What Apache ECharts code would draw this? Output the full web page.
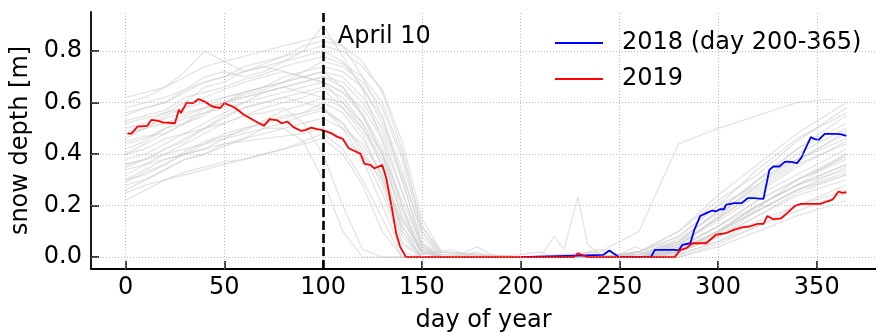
<!DOCTYPE html>
<html>
<head>
<meta charset="utf-8">
<script src="https://cdn.jsdelivr.net/npm/echarts@6.0.0/dist/echarts.min.js"></script>
<style>
  html, body { margin: 0; padding: 0; background: #fff; }
  #chart { width: 876px; height: 332px; }
</style>
</head>
<body>
<div id="chart"></div>
<script>
var xTicks = [0, 50, 100, 150, 200, 250, 300, 350];
var yTicks = [0, 0.2, 0.4, 0.6, 0.8];

// 2019 snow depth (day, m)
var redDays = [1, 3, 6, 11, 13, 16, 19, 25, 27, 28, 31, 34, 37, 40, 44, 48, 50, 55, 60, 66, 70, 73, 77, 79, 82, 85, 89, 91, 94, 97, 100, 104, 107, 110, 113, 119, 121, 124, 126, 130, 132, 135, 137, 139, 142, 227, 229, 234, 278, 281, 284, 287, 294, 299, 304, 308, 312, 316, 320, 323, 325, 328, 332, 335, 339, 342, 352, 355, 358, 361, 363, 365];
var redVals = [0.48, 0.48, 0.507, 0.51, 0.533, 0.53, 0.523, 0.52, 0.572, 0.56, 0.60, 0.598, 0.614, 0.604, 0.585, 0.579, 0.598, 0.582, 0.553, 0.527, 0.51, 0.536, 0.531, 0.52, 0.526, 0.505, 0.49, 0.493, 0.503, 0.497, 0.492, 0.482, 0.468, 0.459, 0.423, 0.401, 0.362, 0.358, 0.345, 0.358, 0.307, 0.184, 0.093, 0.041, 0, 0, 0.015, 0, 0, 0.028, 0.035, 0.054, 0.054, 0.087, 0.093, 0.106, 0.116, 0.119, 0.129, 0.129, 0.16, 0.147, 0.151, 0.171, 0.199, 0.207, 0.207, 0.216, 0.223, 0.255, 0.25, 0.252];

// 2018, day 200-365
var blueDays = [200, 242, 245, 247, 250, 266, 268, 278, 280, 282, 286, 288, 291, 294, 297, 299, 301, 303, 304, 308, 312, 315, 318, 323, 326, 328, 331, 334, 337, 340, 342, 347, 349, 351, 354, 358, 362, 365];
var blueVals = [0, 0.009, 0.026, 0.015, 0, 0, 0.028, 0.028, 0.026, 0.048, 0.054, 0.106, 0.16, 0.171, 0.181, 0.178, 0.186, 0.186, 0.203, 0.21, 0.21, 0.229, 0.229, 0.226, 0.339, 0.352, 0.352, 0.371, 0.37, 0.365, 0.384, 0.466, 0.458, 0.455, 0.479, 0.479, 0.478, 0.471];

// other years (grey), sampled at these days
var grayDays = [0, 10, 20, 30, 40, 50, 60, 70, 80, 90, 100, 110, 120, 130, 140, 150, 160, 200, 240, 260, 280, 300, 320, 340, 365];
var grayYears = [
  [.62,.64,.66,.70,.74,.76,.78,.80,.82,.84,.86,.82,.70,.55,.30,.05,0,0,0,0,.05,.15,.30,.42,.55],
  [.55,.58,.60,.65,.70,.72,.70,.72,.76,.80,.90,.78,.65,.45,.20,0,0,0,0,.02,.08,.20,.28,.38,.48],
  [.48,.50,.55,.58,.62,.65,.68,.70,.72,.70,.68,.60,.50,.35,.10,0,0,0,0,0,.04,.12,.22,.30,.40],
  [.42,.45,.50,.52,.58,.62,.64,.66,.68,.70,.72,.66,.55,.40,.15,.02,0,0,0,.01,.06,.15,.25,.35,.45],
  [.35,.38,.42,.45,.50,.55,.58,.60,.62,.60,.58,.52,.40,.25,.05,0,0,0,0,0,.02,.08,.16,.25,.32],
  [.30,.34,.38,.40,.42,.46,.50,.52,.55,.56,.58,.50,.38,.20,.02,0,0,0,0,0,.03,.10,.20,.28,.36],
  [.25,.28,.30,.33,.35,.37,.38,.40,.42,.45,.48,.42,.30,.15,0,0,0,0,0,0,.01,.06,.12,.18,.25],
  [.40,.42,.46,.48,.50,.52,.55,.56,.58,.52,.40,.20,.03,0,0,0,0,0,0,0,.02,.08,.18,.26,.33],
  [.58,.60,.62,.65,.68,.70,.74,.76,.78,.80,.82,.80,.74,.65,.45,.15,.02,0,0,.02,.10,.22,.32,.45,.58],
  [.45,.47,.48,.52,.55,.60,.63,.65,.68,.70,.72,.70,.62,.50,.30,.06,0,0,0,0,.05,.14,.24,.32,.42],
  [.32,.36,.40,.44,.48,.52,.55,.58,.60,.62,.65,.58,.48,.30,.08,0,0,0,0,0,.02,.10,.18,.26,.35],
  [.50,.52,.56,.60,.66,.68,.72,.74,.72,.70,.68,.64,.58,.46,.25,.04,0,0,0,0,.04,.16,.28,.40,.50],
  [.28,.30,.34,.38,.40,.44,.46,.50,.52,.55,.57,.52,.42,.28,.06,0,0,0,0,0,0,.05,.12,.20,.28],
  [.38,.40,.44,.48,.52,.56,.60,.62,.64,.66,.68,.64,.55,.40,.18,.02,0,0,0,0,.03,.12,.22,.30,.38],
  [.60,.62,.66,.72,.80,.76,.72,.74,.76,.78,.80,.76,.66,.52,.32,.10,0,0,0,.01,.06,.18,.30,.38,.46],
  [.44,.46,.50,.54,.56,.58,.60,.64,.66,.68,.70,.68,.60,.48,.26,.04,0,0,0,0,.04,.12,.20,.28,.36],
  [.52,.54,.56,.58,.60,.62,.64,.66,.68,.72,.76,.74,.68,.58,.38,.10,.01,0,0,.02,.08,.20,.34,.46,.56],
  [.22,.26,.30,.32,.34,.36,.38,.40,.42,.44,.46,.40,.28,.10,0,0,0,0,0,0,0,.04,.10,.16,.22],
  [.36,.38,.42,.46,.50,.54,.58,.60,.62,.64,.66,.62,.52,.36,.12,0,0,0,0,0,.02,.10,.20,.28,.40],
  [.46,.50,.54,.56,.58,.60,.62,.64,.66,.64,.62,.58,.50,.38,.16,.02,0,0,0,.01,.05,.15,.26,.36,.44],
  [.30,.32,.36,.40,.44,.48,.50,.52,.54,.56,.60,.56,.46,.32,.10,0,0,0,0,0,.02,.08,.16,.24,.30],
  [.40,.44,.48,.52,.56,.60,.64,.66,.70,.72,.74,.72,.66,.54,.34,.08,0,0,0,0,.06,.18,.30,.42,.52],
  [.34,.36,.38,.40,.42,.44,.45,.46,.47,.48,.50,.46,.40,.30,.12,.02,0,0,0,0,.01,.06,.14,.20,.26],
  [.56,.58,.60,.64,.68,.70,.72,.75,.78,.82,.84,.82,.76,.64,.42,.12,.02,0,0,.02,.10,.24,.36,.48,.60],
  [.48,.50,.52,.55,.58,.60,.62,.64,.66,.68,.70,.66,.56,.42,.20,.03,0,0,.02,.10,.44,.50,.55,.60,.62],
  [.36,.38,.40,.42,.44,.46,.48,.50,.50,.45,.30,.10,0,0,0,0,0,0,0,0,.02,.10,.20,.28,.34],
  [.26,.30,.34,.38,.40,.43,.46,.48,.50,.52,.54,.50,.44,.32,.14,.03,0,0,0,0,.03,.10,.18,.26,.32],
  [.29,.33,.36,.41,.45,.47,.49,.53,.57,.59,.62,.60,.52,.40,.22,.05,0,0,0,0,.02,.09,.19,.30,.39],
  [.53,.55,.57,.62,.64,.66,.69,.71,.74,.76,.78,.75,.70,.60,.40,.12,.01,0,0,.01,.07,.17,.27,.37,.49]
];

// summer noise in two of the grey years
var summerDays = [150, 165, 172, 178, 185, 200, 210, 217, 222, 229, 234, 240, 250, 258, 265, 272];
var summerA = [0, 0, 0.02, 0.04, 0.01, 0, 0, 0.08, 0.03, 0.234, 0.05, 0.01, 0, 0.02, 0.01, 0];
var summerB = [0.01, 0.03, 0.01, 0.02, 0, 0.01, 0.02, 0, 0.01, 0, 0.02, 0.03, 0.01, 0.04, 0.02, 0.05];

var FONT = 'DejaVu Sans';

function pairs(xs, ys) {
  return xs.map(function (x, i) { return [x, ys[i]]; });
}

var grayStyle = { color: 'rgba(205,205,205,0.55)', width: 1.3 };

var series = [];

// grid lines
series.push({
  type: 'line',
  data: [],
  z: 0,
  silent: true,
  markLine: {
    silent: true,
    symbol: ['none', 'none'],
    animation: false,
    label: { show: false },
    lineStyle: { color: '#aaa', type: [1, 2], width: 0.8 },
    data: xTicks.map(function (v) { return { xAxis: v }; })
      .concat(yTicks.map(function (v) { return { yAxis: v }; }))
  }
});

grayYears.forEach(function (vals) {
  series.push({
    type: 'line', data: pairs(grayDays, vals), symbol: 'none', silent: true,
    lineStyle: grayStyle, z: 1
  });
});
[summerA, summerB].forEach(function (vals) {
  series.push({
    type: 'line', data: pairs(summerDays, vals), symbol: 'none', silent: true,
    lineStyle: grayStyle, z: 1
  });
});

series.push({
  name: '2018 (day 200-365)', type: 'line', data: pairs(blueDays, blueVals),
  symbol: 'none', lineStyle: { color: '#0000ff', width: 1.8 }, itemStyle: { color: '#0000ff' }, z: 3
});
series.push({
  name: '2019', type: 'line', data: pairs(redDays, redVals),
  symbol: 'none', lineStyle: { color: '#ff0000', width: 1.8 }, itemStyle: { color: '#ff0000' }, z: 4
});

// April 10 marker
series.push({
  type: 'line',
  data: [],
  z: 5,
  silent: true,
  markLine: {
    silent: true,
    symbol: ['none', 'none'],
    animation: false,
    label: { show: false },
    lineStyle: { color: '#000', type: [9, 4], width: 2.6 },
    data: [{ xAxis: 100 }]
  },
  markPoint: {
    silent: true,
    symbol: 'circle',
    symbolSize: 0,
    animation: false,
    label: {
      show: true, position: 'right', distance: 0, formatter: 'April 10',
      color: '#000', fontSize: 24, fontFamily: FONT
    },
    data: [{ coord: [107.5, 0.855] }]
  }
});

var dom = document.getElementById('chart');
var chart = echarts.init(dom);

var option = {
  animation: false,
  backgroundColor: '#fff',
  grid: { left: 91, right: 0, top: 12, bottom: 63, containLabel: false, outerBoundsMode: 'none' },
  legend: {
    data: ['2018 (day 200-365)', '2019'],
    orient: 'vertical',
    left: 547, top: 23,
    padding: [8, 12, 8, 8],
    itemGap: 12,
    icon: 'rect',
    itemWidth: 48, itemHeight: 2,
    backgroundColor: 'rgba(255,255,255,0.8)',
    textStyle: { fontSize: 24, fontFamily: FONT, color: '#000', lineHeight: 24, padding: [0, 0, 0, 14] }
  },
  xAxis: {
    type: 'value', min: -17.5, max: 380,
    name: 'day of year', nameLocation: 'middle', nameGap: 40,
    nameTextStyle: { fontSize: 24, fontFamily: FONT, color: '#000' },
    axisLine: { onZero: false, lineStyle: { color: '#000', width: 1.8 } },
    axisTick: { inside: true, length: 8, customValues: xTicks, lineStyle: { color: '#000', width: 1.5 } },
    axisLabel: { customValues: xTicks, fontSize: 24, fontFamily: FONT, color: '#000', margin: 7 },
    splitLine: { show: false }
  },
  yAxis: {
    type: 'value', min: -0.046, max: 0.952,
    name: 'snow depth [m]', nameLocation: 'middle', nameGap: 56,
    nameTextStyle: { fontSize: 24, fontFamily: FONT, color: '#000' },
    axisLine: { show: true, onZero: false, lineStyle: { color: '#000', width: 1.8 } },
    axisTick: { show: true, inside: true, length: 8, customValues: yTicks, lineStyle: { color: '#000', width: 1.5 } },
    axisLabel: {
      customValues: yTicks, fontSize: 24, fontFamily: FONT, color: '#000', margin: 9,
      formatter: function (v) { return v.toFixed(1); }
    },
    splitLine: { show: false }
  },
  series: series
};

if (option && typeof option === 'object') {
  chart.setOption(option, false);
}
window.onresize = chart.resize;
</script>
</body>
</html>
